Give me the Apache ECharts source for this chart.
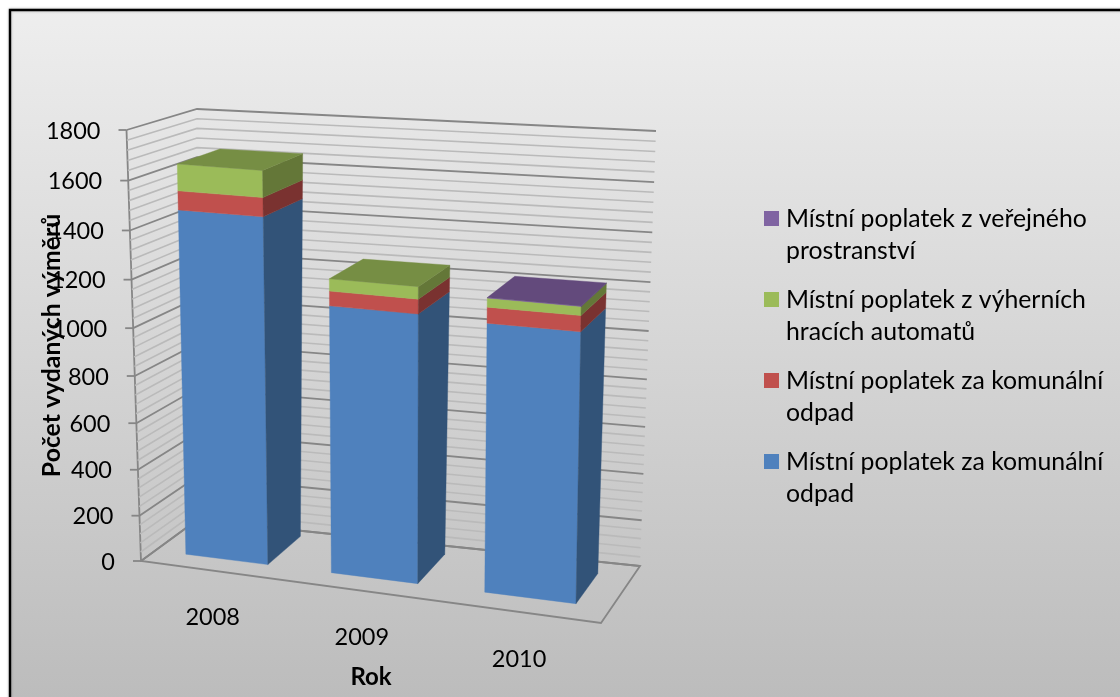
<!DOCTYPE html>
<html><head><meta charset="utf-8">
<style>html,body{margin:0;padding:0;background:#fff}#c{width:1120px;height:697px}</style>
<script src="https://cdn.jsdelivr.net/npm/echarts@6/dist/echarts.min.js"></script>
</head><body><div id="c"></div>
<script>
const categories = ['2008','2009','2010'];
const odpadA = [1467,1130,1119];
const odpadB = [77,60,64];
const automaty = [108,50,36];
const verejne = [0,0,2];
const valueTicks = [0,200,400,600,800,1000,1200,1400,1600,1800];
const minorStep = 40;
const seriesNames = ['Místní poplatek za komunální odpad','Místní poplatek za komunální odpad ','Místní poplatek z výherních hracích automatů','Místní poplatek z veřejného prostranství'];
const legendLines = ['Místní poplatek za komunální\nodpad','Místní poplatek za komunální\nodpad','Místní poplatek z výherních\nhracích automatů','Místní poplatek z veřejného\nprostranství'];
const stackValues = [odpadA,odpadB,automaty,verejne];
const FONT='Lato';
const faces=[
 {front:'#4f81bd',side:'#325378',top:'#3f6797'},
 {front:'#c0504d',side:'#7a3230',top:'#99403e'},
 {front:'#9bbb59',side:'#647738',top:'#768e44'},
 {front:'#8064a2',side:'#51406a',top:'#634a7c'}];
// 3D box corners of the chart's plot volume on the page (perspective frame)
const C={fb0:[141,561],fb1:[601,623],ft0:[126.5,130],ft1:[608,168],bb0:[197,520],bb1:[640,566],bt0:[197,109],bt1:[656,131]};
const PX=0.923,PY=0.94,W0=0.26,W1=0.91,W1S=0.13,BAR=0.57;
const lerp=(a,b,t)=>[a[0]+(b[0]-a[0])*t,a[1]+(b[1]-a[1])*t];
function proj(cs,px,py,w){
  let t=(px-cs.x)/cs.width, v=(cs.y+cs.height-py)/cs.height;
  t=t*PX/(1+(PX-1)*t); v=v*PY/(1+(PY-1)*v);
  const fb=lerp(C.fb0,C.fb1,t),ft=lerp(C.ft0,C.ft1,t),bb=lerp(C.bb0,C.bb1,t),bt=lerp(C.bt0,C.bt1,t);
  return lerp(lerp(fb,ft,v),lerp(bb,bt,v),w);
}
const stackData=stackValues.map((vals,s)=>vals.map((val,i)=>{
  let base=0;for(let k=0;k<s;k++)base+=stackValues[k][i];
  let isTop=true;for(let k=s+1;k<stackValues.length;k++)if(stackValues[k][i]>0)isTop=false;
  return [i,base,base+val,isTop&&val>0?1:0];
}));
function barRender(s){return function(params,api){
  const cs=params.coordSys,i=api.value(0),lo=api.coord([i,api.value(1)]),hi=api.coord([i,api.value(2)]);
  if(api.value(2)<=api.value(1))return null;
  const hw=api.size([1,0])[0]*BAR/2,xa=lo[0]-hw,xb=lo[0]+hw;
  const wb=W1-W1S*(lo[0]-cs.x)/cs.width;
  const P=(x,y,w)=>proj(cs,x,y,w);
  const poly=(pts,fill)=>({type:'polygon',shape:{points:pts},style:{fill:fill,stroke:fill,lineWidth:0.4}});
  const f=faces[s],ch=[
   poly([P(xa,lo[1],W0),P(xb,lo[1],W0),P(xb,hi[1],W0),P(xa,hi[1],W0)],f.front),
   poly([P(xb,lo[1],W0),P(xb,lo[1],wb),P(xb,hi[1],wb),P(xb,hi[1],W0)],f.side)];
  if(api.value(3))ch.push(poly([P(xa,hi[1],W0),P(xb,hi[1],W0),P(xb,hi[1],wb),P(xa,hi[1],wb)],f.top));
  return {type:'group',children:ch};
};}
const gridLevels=[];for(let v=0;v<=valueTicks[valueTicks.length-1];v+=minorStep)gridLevels.push(v);
function wallRender(params,api){
  const cs=params.coordSys,val=api.value(0),y=api.coord([0,val])[1];
  const x0=cs.x,x1=cs.x+cs.width,major=valueTicks.indexOf(val)>=0;
  const a=proj(cs,x0,y,0),b=proj(cs,x0,y,1),c=proj(cs,x1,y,1);
  const st={fill:'none',stroke:major?'#868686':'#bababa',lineWidth:major?1.8:1.6};
  const ch=[{type:'polyline',shape:{points:[a,b,c]},style:st}];
  if(major){
    ch.push({type:'line',shape:{x1:a[0]-8,y1:a[1],x2:a[0],y2:a[1]},style:{stroke:'#868686',lineWidth:1.8}});
    ch.push({type:'text',style:{text:String(val),x:a[0]-26,y:a[1]+1,align:'right',verticalAlign:'middle',fill:'#000',font:'23.5px '+FONT}});
  }
  return {type:'group',children:ch};
}
function frameRender(params,api){
  const cs=params.coordSys,y=cs.y+cs.height,x0=cs.x,x1=cs.x+cs.width;
  const a=proj(cs,x0,y,0),b=proj(cs,x1,y,0),c=proj(cs,x1,y,1),d=proj(cs,x0,y,1),t=proj(cs,x0,cs.y,0);
  const st={fill:'none',stroke:'#868686',lineWidth:1.8};
  return {type:'group',children:[
    {type:'polyline',shape:{points:[t,a,b,c,d,a]},style:st}]};
}
function catRender(params,api){
  const cs=params.coordSys,i=api.value(0),p=api.coord([i,0]),q=proj(cs,p[0],cs.y+cs.height,0);
  return {type:'text',style:{text:categories[i],x:q[0],y:q[1]+47,align:'center',verticalAlign:'middle',fill:'#000',font:'23.5px '+FONT}};
}
const chart=echarts.init(document.getElementById('c'),null,{renderer:'canvas'});
const series=[
 {type:'custom',silent:true,clip:false,z:2,renderItem:frameRender,data:[[0]]},
 {type:'custom',silent:true,clip:false,z:2,renderItem:wallRender,data:gridLevels.map(v=>[v])},
 {type:'custom',silent:true,clip:false,z:2,renderItem:catRender,data:categories.map((c,i)=>[i])}
];
stackData.forEach((d,s)=>series.push({type:'custom',name:seriesNames[s],silent:true,clip:false,z:3,renderItem:barRender(s),itemStyle:{color:faces[s].front},data:d}));
chart.setOption({
 animation:false,
 grid:{left:141,top:130,width:460,height:431},
 graphic:[{type:'rect',z:-10,shape:{x:10,y:10,width:1200,height:800},silent:true,
   style:{fill:new echarts.graphic.LinearGradient(0,0,0,1,[{offset:0,color:'#eeeeee'},{offset:0.86,color:'#bcbcbc'},{offset:1,color:'#bcbcbc'}]),stroke:'#000',lineWidth:2.4,shadowColor:'rgba(0,0,0,0.25)',shadowBlur:3}}],
 xAxis:{type:'category',data:categories,name:'Rok',nameLocation:'middle',nameGap:104,
   nameTextStyle:{fontFamily:FONT,fontWeight:'bold',fontSize:24,color:'#000'},
   axisLine:{show:false},axisTick:{show:false},axisLabel:{show:false},splitLine:{show:false}},
 yAxis:{type:'value',min:0,max:1800,interval:200,name:'Počet vydaných výměrů',nameLocation:'middle',nameGap:76,
   nameTextStyle:{fontFamily:FONT,fontWeight:'bold',fontSize:24.8,color:'#000'},
   axisLine:{show:false},axisTick:{show:false},axisLabel:{show:false},splitLine:{show:false}},
 legend:{orient:'vertical',left:764,top:203,padding:0,itemWidth:15,itemHeight:64,itemGap:17,selectedMode:false,
   data:seriesNames.slice().reverse(),
   icon:'path://M0 8H15V23H0Z M0 0L0 0 M15 64L15 64',
   formatter:n=>legendLines[seriesNames.indexOf(n)],
   textStyle:{fontFamily:FONT,fontSize:24.8,lineHeight:32,color:'#000',padding:[0,0,0,2]},itemStyle:{borderWidth:0}},
 series:series
});
</script></body></html>
